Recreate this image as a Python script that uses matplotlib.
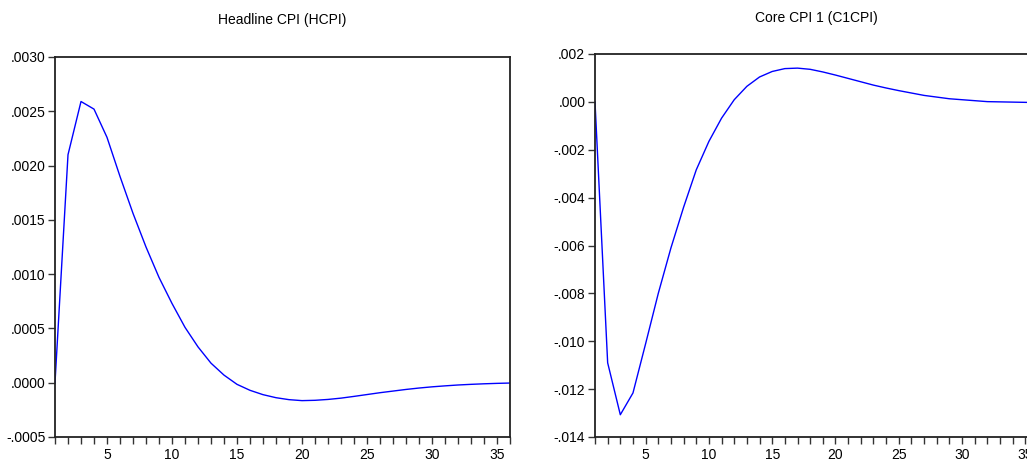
import numpy as np
import matplotlib.pyplot as plt
from matplotlib.ticker import FuncFormatter, MultipleLocator

plt.rcParams['font.family'] = ['Liberation Sans Narrow', 'Liberation Sans', 'DejaVu Sans']

# impulse responses
periods = np.arange(1, 37)
hcpi = [0.0, 0.00210, 0.00259, 0.00252, 0.00226, 0.00190, 0.00156, 0.00125,
        0.00097, 0.00073, 0.00051, 0.00033, 0.00018, 0.00007, -0.000015,
        -0.00007, -0.00011, -0.000138, -0.000156, -0.000165, -0.000162,
        -0.000154, -0.000142, -0.000126, -0.000109, -0.000092, -0.000077,
        -0.000062, -0.000049, -0.000038, -0.000029, -0.000021, -0.000015,
        -0.00001, -0.000006, -0.000003]
c1cpi = [0.0, -0.0109, -0.01307, -0.01216, -0.0101, -0.0080, -0.0061, -0.0044,
         -0.00284, -0.00165, -0.00068, 0.00009, 0.00065, 0.00104, 0.00127,
         0.00139, 0.00141, 0.00136, 0.00125, 0.00112, 0.00098, 0.00084, 0.00070,
         0.00058, 0.00047, 0.00037, 0.00027, 0.00020, 0.00013, 0.00009, 0.00005,
         0.00001, 0.0, -0.00001, -0.00002, -0.00003]

titles = ['Headline CPI (HCPI)', 'Core CPI 1 (C1CPI)']


def fmt(decimals):
    def f(v, pos):
        s = f'{v:.{decimals}f}'
        return s.replace('0.', '.', 1)
    return FuncFormatter(f)


W, H = 1027, 466
fig = plt.figure(figsize=(W / 100, H / 100), dpi=100)

ax1 = fig.add_axes([55 / W, 29 / H, 455 / W, 380 / H])
ax2 = fig.add_axes([595 / W, 29 / H, 443 / W, 383 / H])

# axes, values, y range, y step, decimals, title pad
panels = [(ax1, hcpi, (-0.0005, 0.003), 0.0005, 4, 24),
          (ax2, c1cpi, (-0.014, 0.002), 0.002, 3, 23)]

for (ax, vals, ylim, step, dec, pad), title in zip(panels, titles):
    ax.plot(periods, vals, color='#0000ff', lw=1.0)
    ax.set_xlim(1, 36)
    ax.set_ylim(*ylim)
    ax.xaxis.set_major_locator(MultipleLocator(5))
    ax.xaxis.set_minor_locator(MultipleLocator(1))
    ax.yaxis.set_major_locator(MultipleLocator(step))
    ax.yaxis.set_major_formatter(fmt(dec))
    ax.tick_params(axis='both', which='both', direction='out', length=5,
                   width=1.0, color='#333333', labelsize=10, pad=2)
    ax.tick_params(axis='x', which='major', pad=3)
    for sp in ax.spines.values():
        sp.set_linewidth(1.3)
        sp.set_color('#222222')
    ax.set_title(title, fontsize=10, pad=pad)

fig.savefig('out.png', dpi=100)
